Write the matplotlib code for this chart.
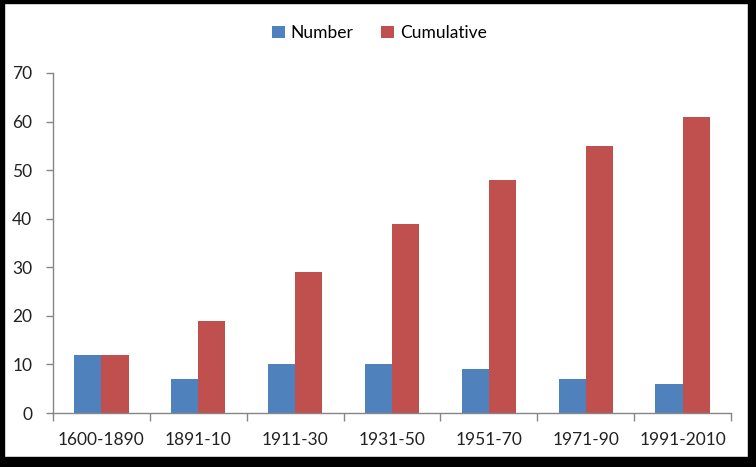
import numpy as np
import matplotlib.pyplot as plt
from matplotlib.patches import Rectangle

periods = ["1600-1890", "1891-10", "1911-30", "1931-50", "1951-70", "1971-90", "1991-2010"]
number = [12, 7, 10, 10, 9, 7, 6]
cumulative = [12, 19, 29, 39, 48, 55, 61]

plt.rcParams['font.family'] = ['Lato', 'DejaVu Sans']

fig = plt.figure(figsize=(7.56, 4.67), dpi=100)
ax = fig.add_axes([0.0701, 0.1156, 0.8969, 0.7281])

x = np.arange(len(periods))
w = 0.28
ax.bar(x - w / 2, number, w, color='#4F81BD', label='Number')
ax.bar(x + w / 2, cumulative, w, color='#C0504D', label='Cumulative')

ax.set_xlim(-0.5, len(periods) - 0.5)
ax.set_ylim(0, 70)
ax.set_yticks(range(0, 71, 10))
ax.set_xticks(x)
ax.set_xticklabels(periods)
ax.set_xticks(np.arange(-0.5, len(periods), 1), minor=True)
ax.tick_params(axis='x', which='major', length=0, pad=14, labelsize=12.5, colors='#222222')
ax.tick_params(axis='x', which='minor', length=6, color='#868686', width=1)
ax.tick_params(axis='y', length=5, color='#868686', width=1, pad=10, labelsize=12.5,
               labelcolor='#222222')

for s in ['top', 'right']:
    ax.spines[s].set_visible(False)
for s in ['left', 'bottom']:
    ax.spines[s].set_color('#868686')
    ax.spines[s].set_linewidth(1)

fig.legend(loc='center', bbox_to_anchor=(0.502, 0.929), ncol=2, frameon=False,
           fontsize=12.5, handlelength=0.75, handleheight=0.75, handletextpad=0.35,
           columnspacing=1.6)

# black frame around the picture
black = dict(transform=fig.transFigure, color='black', zorder=10)
fig.patches.append(Rectangle((0, 0), 1, 10 / 467, **black))
fig.patches.append(Rectangle((0, 1 - 3 / 467), 1, 3 / 467, **black))
fig.patches.append(Rectangle((0, 0), 4 / 756, 1, **black))
fig.patches.append(Rectangle((1 - 8 / 756, 0), 8 / 756, 1, **black))

fig.savefig('out.png', dpi=100)
